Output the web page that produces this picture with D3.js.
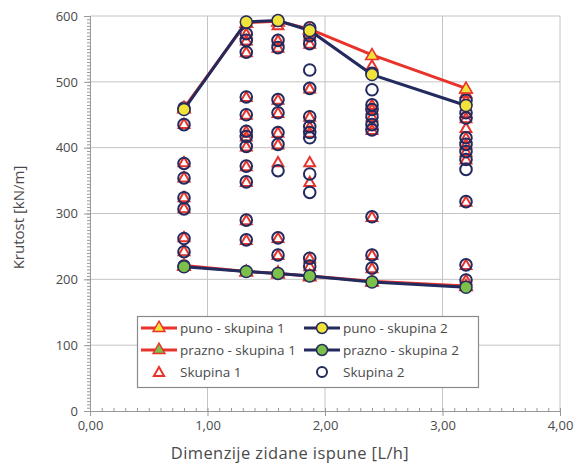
<!DOCTYPE html>
<html><head><meta charset="utf-8">
<script src="https://cdn.jsdelivr.net/npm/d3@7"></script>
<style>
body{margin:0;background:#fff;}
text{font-family:"Open Sans",sans-serif;}
</style></head>
<body><svg id="c" width="582" height="466"></svg>
<script>
const xCats = [0.8, 1.33, 1.6, 1.87, 2.4, 3.2];
const punoS1 = [460, 590, 592, 580, 541, 490];
const praznoS1 = [221, 212, 209, 205, 197, 190];
const punoS2 = [458, 591, 593, 578, 511, 464];
const praznoS2 = [219, 212, 209, 205, 196, 188];

const skupina1X = [0.8,0.8,0.8,0.8,0.8,0.8,0.8,0.8,0.8,
  1.33,1.33,1.33,1.33,1.33,1.33,1.33,1.33,1.33,1.33,1.33,1.33,1.33,
  1.6,1.6,1.6,1.6,1.6,1.6,1.6,1.6,1.6,1.6,1.6,
  1.87,1.87,1.87,1.87,1.87,1.87,1.87,1.87,1.87,1.87,1.87,1.87,
  2.4,2.4,2.4,2.4,2.4,2.4,2.4,2.4,2.4,2.4,2.4,
  3.2,3.2,3.2,3.2,3.2,3.2,3.2,3.2,3.2,3.2,3.2,3.2,3.2,3.2];
const skupina1Y = [462,436,378,355,325,308,264,243,222,
  573,563,545,477,450,425,417,402,372,348,290,260,213,
  586,563,552,473,453,423,405,378,263,237,212,
  580,570,558,490,447,432,423,378,348,232,220,207,
  541,525,465,458,447,435,427,295,237,217,197,
  490,483,472,453,445,430,415,405,394,382,318,222,199,190];

const skupina2X = [0.8,0.8,0.8,0.8,0.8,0.8,0.8,0.8,0.8,
  1.33,1.33,1.33,1.33,1.33,1.33,1.33,1.33,1.33,1.33,1.33,1.33,
  1.6,1.6,1.6,1.6,1.6,1.6,1.6,1.6,1.6,
  1.87,1.87,1.87,1.87,1.87,1.87,1.87,1.87,1.87,1.87,1.87,1.87,1.87,
  2.4,2.4,2.4,2.4,2.4,2.4,2.4,2.4,2.4,2.4,
  3.2,3.2,3.2,3.2,3.2,3.2,3.2,3.2,3.2,3.2,3.2];
const skupina2Y = [460,435,376,354,324,307,262,242,220,
  573,563,545,477,450,425,417,402,372,348,290,260,
  563,552,473,453,423,405,365,263,237,
  582,570,558,518,490,447,432,423,415,360,332,232,220,
  513,488,465,458,447,435,427,295,237,217,
  472,453,445,415,405,394,382,367,318,222,199];

const xTicks = [0,1,2,3,4];
const yTicks = [0,100,200,300,400,500,600];
const legendLabels = ["puno - skupina 1","prazno - skupina 1","Skupina 1","puno - skupina 2","prazno - skupina 2","Skupina 2"];

const RED="#e8332b", NAVY="#222a5e", YEL="#f2e33a", GRN="#7cc04a", GRID="#c4c4c4", TXT="#4a4a4a";
const svg = d3.select("#c");
const L=90, R=560, T=16, B=411;
const x = d3.scaleLinear().domain([0,4]).range([L,R]);
const y = d3.scaleLinear().domain([0,600]).range([B,T]);

// grid
svg.append("g").selectAll("line").data(yTicks.slice(1)).join("line")
  .attr("x1",L).attr("x2",R).attr("y1",d=>y(d)).attr("y2",d=>y(d))
  .attr("stroke",GRID).attr("stroke-width",1);
svg.append("g").selectAll("line").data(xTicks.slice(1)).join("line")
  .attr("x1",d=>x(d)).attr("x2",d=>x(d)).attr("y1",T).attr("y2",B)
  .attr("stroke",GRID).attr("stroke-width",1);

// axes
const yAxis = svg.append("g").attr("transform",`translate(${L},0)`)
  .call(d3.axisLeft(y).tickValues(yTicks).tickSize(6).tickPadding(6).tickFormat(d3.format("d")));
const yMinor = svg.append("g").attr("transform",`translate(${L},0)`)
  .call(d3.axisLeft(y).tickValues(d3.range(0,601,5)).tickSize(3).tickFormat(""));
const xAxis = svg.append("g").attr("transform",`translate(0,${B})`)
  .call(d3.axisBottom(x).tickValues(xTicks).tickSize(5).tickPadding(5).tickFormat(d=>d3.format(".2f")(d).replace(".",",")));
const xMinor = svg.append("g").attr("transform",`translate(0,${B})`)
  .call(d3.axisTop(x).tickValues(d3.range(0,41).map(d=>d/10)).tickSize(3).tickFormat(""));
[yAxis,yMinor,xAxis,xMinor].forEach(g=>{
  g.selectAll(".domain").attr("stroke","#999");
  g.selectAll(".tick line").attr("stroke","#999");
  g.selectAll("text").attr("fill",TXT).style("font-size","13px");
});

svg.append("text").attr("x",290).attr("y",459).attr("text-anchor","middle")
  .attr("fill",TXT).style("font-size","16.5px").style("letter-spacing","0.4px").text("Dimenzije zidane ispune [L/h]");
svg.append("text").attr("transform",`translate(24,${(T+B)/2+4}) rotate(-90)`).attr("text-anchor","middle")
  .attr("fill",TXT).style("font-size","15px").text("Krutost [kN/m]");

const tri = d3.symbol().type(d3.symbolTriangle).size(50);
const circR = 5.8;

// scatter Skupina 1 triangles
svg.append("g").selectAll("path").data(skupina1X.map((d,i)=>[d,skupina1Y[i]])).join("path")
  .attr("d",tri).attr("transform",d=>`translate(${x(d[0])},${y(d[1])+1})`)
  .attr("fill","none").attr("stroke",RED).attr("stroke-width",2);
// scatter Skupina 2 circles
svg.append("g").selectAll("circle").data(skupina2X.map((d,i)=>[d,skupina2Y[i]])).join("circle")
  .attr("cx",d=>x(d[0])).attr("cy",d=>y(d[1])).attr("r",circR)
  .attr("fill","none").attr("stroke",NAVY).attr("stroke-width",2);

const line = d3.line().x(d=>x(d[0])).y(d=>y(d[1]));
function series(vals,color,type,fill){
  const pts = xCats.map((d,i)=>[d,vals[i]]);
  svg.append("path").datum(pts).attr("d",line).attr("fill","none").attr("stroke",color).attr("stroke-width",3);
  const g = svg.append("g");
  if(type==="tri"){
    g.selectAll("path").data(pts).join("path").attr("d",d3.symbol().type(d3.symbolTriangle).size(70))
      .attr("transform",d=>`translate(${x(d[0])},${y(d[1])+1})`)
      .attr("fill",fill).attr("stroke",color).attr("stroke-width",1.5);
  } else {
    g.selectAll("circle").data(pts).join("circle").attr("cx",d=>x(d[0])).attr("cy",d=>y(d[1])).attr("r",6)
      .attr("fill",fill).attr("stroke",color).attr("stroke-width",1.5);
  }
}
series(punoS1,RED,"tri",YEL);
series(praznoS1,RED,"tri",GRN);
series(punoS2,NAVY,"circ",YEL);
series(praznoS2,NAVY,"circ",GRN);

// legend
const lg = svg.append("g");
lg.append("rect").attr("x",137.5).attr("y",316.5).attr("width",341).attr("height",71)
  .attr("fill","#fff").attr("stroke","#8a8a8a").attr("stroke-width",1.2);
const rows=[328,350,372];
legendLabels.forEach((lab,i)=>{
  const col = Math.floor(i/3), row=i%3;
  const sx = col===0?159:322, ty=rows[row], tx = col===0?180:343;
  const color = col===0?RED:NAVY;
  if(row<2){
    lg.append("line").attr("x1",sx-18).attr("x2",sx+18).attr("y1",ty).attr("y2",ty).attr("stroke",color).attr("stroke-width",3);
    const fill = row===0?YEL:GRN;
    if(col===0) lg.append("path").attr("d",d3.symbol().type(d3.symbolTriangle).size(60)).attr("transform",`translate(${sx},${ty})`).attr("fill",fill).attr("stroke",color).attr("stroke-width",1.5);
    else lg.append("circle").attr("cx",sx).attr("cy",ty).attr("r",5.5).attr("fill",fill).attr("stroke",color).attr("stroke-width",1.5);
  } else {
    if(col===0) lg.append("path").attr("d",d3.symbol().type(d3.symbolTriangle).size(45)).attr("transform",`translate(${sx},${ty+1})`).attr("fill","none").attr("stroke",color).attr("stroke-width",2);
    else lg.append("circle").attr("cx",sx).attr("cy",ty).attr("r",5).attr("fill","none").attr("stroke",color).attr("stroke-width",2);
  }
  lg.append("text").attr("x",tx).attr("y",ty+5).attr("fill",TXT).style("font-size","13.5px").text(lab);
});
</script></body></html>
